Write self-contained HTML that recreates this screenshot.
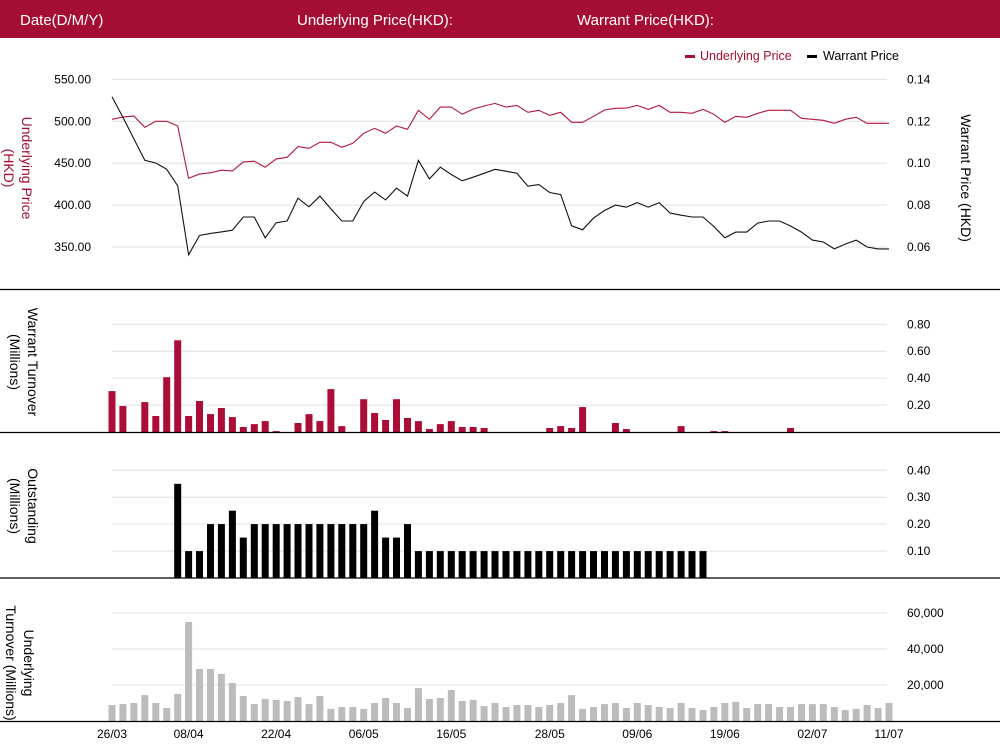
<!DOCTYPE html>
<html><head><meta charset="utf-8"><style>
html,body{margin:0;padding:0;background:#fff;}
body{width:1000px;height:751px;overflow:hidden;font-family:"Liberation Sans",sans-serif;}
svg text{font-family:"Liberation Sans",sans-serif;}
</style></head><body>
<svg id="chart" width="1000" height="751" viewBox="0 0 1000 751" xmlns="http://www.w3.org/2000/svg">
<rect x="0" y="0" width="1000" height="38" fill="#a50e34"/>
<text x="20" y="25" fill="#fff" font-size="15">Date(D/M/Y)</text>
<text x="297" y="25" fill="#fff" font-size="15">Underlying Price(HKD):</text>
<text x="577" y="25" fill="#fff" font-size="15">Warrant Price(HKD):</text>
<g>
<g><rect x="685" y="55" width="10" height="3" fill="#a50e34"/><text x="700" y="60" font-size="12.5" fill="#a50e34">Underlying Price</text></g>
<g><rect x="807" y="55" width="10" height="3" fill="#000"/><text x="823" y="60" font-size="12.5" fill="#000">Warrant  Price</text></g>
</g>
<text transform="translate(14,168) rotate(90)" text-anchor="middle" font-size="14" fill="#a50e34"><tspan x="0" dy="-8">Underlying Price</tspan><tspan x="0" dy="18">(HKD)</tspan></text>
<text transform="translate(961,178) rotate(90)" text-anchor="middle" font-size="14" fill="#000">Warrant  Price (HKD)</text>
<text transform="translate(20,362) rotate(90)" text-anchor="middle" font-size="14" fill="#000"><tspan x="0" dy="-8">Warrant  Turnover</tspan><tspan x="0" dy="18">(Millions)</tspan></text>
<text transform="translate(20,506) rotate(90)" text-anchor="middle" font-size="14" fill="#000"><tspan x="0" dy="-8">Outstanding</tspan><tspan x="0" dy="18">(Millions)</tspan></text>
<text transform="translate(16,663) rotate(90)" text-anchor="middle" font-size="14" fill="#000"><tspan x="0" dy="-8">Underlying</tspan><tspan x="0" dy="18">Turnover (Millions)</tspan></text>
<g id="plots"></g>
</svg>
<script>
const dates = ["26/03","08/04","22/04","06/05","16/05","28/05","09/06","19/06","02/07","11/07"];
const dateIdx = [0,7,15,23,31,40,48,56,64,71];
const underlyingPrice = [502.4,505,506.3,492.8,500,500,494.4,432,437,438.5,441.7,440.8,451.6,452.4,445.2,455.1,457.1,469.8,467.8,475,475,469,473.8,485.7,491.7,485.7,494.4,490.5,513.1,502.4,517,517,508.3,514.6,518.2,521.4,517,519,510.7,513.1,507.1,510.7,498.8,498.8,506,513.5,515.5,515.8,519,514.2,519,510.7,510.7,509.5,514.2,508.3,498.8,506,504.8,509.5,513.1,513.1,513.1,503.6,502.4,501.2,497.6,502.4,504.8,497.6,497.6,497.6];
const warrantPrice = [0.1317,0.1219,0.1116,0.1014,0.1001,0.0971,0.0892,0.0563,0.0655,0.0665,0.0672,0.068,0.0743,0.0743,0.0644,0.0716,0.0724,0.0833,0.0792,0.0843,0.0782,0.0724,0.0724,0.0817,0.0862,0.0825,0.0881,0.0843,0.1014,0.0925,0.0981,0.0946,0.0916,0.0933,0.0952,0.0971,0.0962,0.0952,0.089,0.0898,0.086,0.085,0.0701,0.0682,0.0738,0.0774,0.08,0.079,0.0812,0.079,0.0812,0.0762,0.0752,0.0743,0.0743,0.0698,0.0644,0.0671,0.0671,0.0714,0.0724,0.0724,0.07,0.0671,0.0633,0.0624,0.0591,0.0614,0.0633,0.06,0.0591,0.0591];
const warrantTurnover = [0.304,0.193,0,0.222,0.119,0.407,0.681,0.119,0.23,0.133,0.178,0.111,0.037,0.059,0.081,0.007,0,0.067,0.133,0.081,0.319,0.044,0,0.244,0.141,0.089,0.244,0.104,0.081,0.022,0.059,0.081,0.037,0.037,0.03,0,0,0,0,0,0.03,0.044,0.03,0.185,0,0,0.067,0.022,0,0,0,0,0.044,0,0,0.007,0.007,0,0,0,0,0,0.03,0,0,0,0,0,0,0,0,0];
const outstanding = [0,0,0,0,0,0,0.35,0.1,0.1,0.2,0.2,0.25,0.15,0.2,0.2,0.2,0.2,0.2,0.2,0.2,0.2,0.2,0.2,0.2,0.25,0.15,0.15,0.2,0.1,0.1,0.1,0.1,0.1,0.1,0.1,0.1,0.1,0.1,0.1,0.1,0.1,0.1,0.1,0.1,0.1,0.1,0.1,0.1,0.1,0.1,0.1,0.1,0.1,0.1,0.1,0,0,0,0,0,0,0,0,0,0,0,0,0,0,0,0,0];
const underlyingTurnover = [8900,9400,10000,14400,10000,7200,15000,55000,28900,28900,26100,21100,13900,9400,12200,11700,11100,13300,9400,13900,6700,7800,7800,6700,10000,12800,10000,7200,18300,12200,12800,17200,11100,11700,8300,10000,7800,8900,8900,7800,8900,10000,14400,6700,7800,9400,10000,7200,10000,8900,7800,7200,10000,7200,6100,7800,10000,10600,7200,9400,9400,7800,7800,9400,9400,9400,7800,6100,6700,8900,7200,10000];
const upTicks = [550,500,450,400,350];
const wpTicks = [0.14,0.12,0.10,0.08,0.06];
const wtTicks = [0.8,0.6,0.4,0.2];
const osTicks = [0.4,0.3,0.2,0.1];
const utTicks = [60000,40000,20000];

const NS="http://www.w3.org/2000/svg";
const root=document.getElementById('plots');
function mk(tag,attrs,parent){const e=document.createElementNS(NS,tag);for(const k in attrs)e.setAttribute(k,attrs[k]);(parent||root).appendChild(e);return e;}
const N=underlyingPrice.length;
const X0=112,X1=889,GX0=112,GX1=887;
function x(i){return X0+(X1-X0)*i/(N-1);}
function lin(d0,d1,r0,r1){return v=>r0+(v-d0)*(r1-r0)/(d1-d0);}
const yUP=lin(500,350,121.3,247);
const yWP=lin(0.12,0.06,121.3,247);
const yWT=lin(0,0.8,432,324.3);
const yOS=lin(0,0.4,578,470.3);
const yUT=lin(0,60000,721,613);

function grid(ticks,yf,name,fmt,side){
  ticks.forEach(t=>{
    const l=mk('line',{x1:GX0,x2:GX1,y1:yf(t),y2:yf(t),stroke:'#e0e0e0','stroke-width':1});
    
    
    const tx=mk('text',{x:side==='left'?91:907,y:yf(t)+4,'font-size':12,'text-anchor':side==='left'?'end':'start',fill:'#000'});
    
    
    tx.textContent=fmt(t);
  });
}
grid(upTicks,yUP,'y-left-underlying-price',t=>t.toFixed(2),'left');
wpTicks.forEach(t=>{
  const tx=mk('text',{x:907,y:yWP(t)+4,'font-size':12,fill:'#000'});
  
  
  tx.textContent=t.toFixed(2);
});
grid(wtTicks,yWT,'warrant-turnover-axis',t=>t.toFixed(2),'right');
grid(osTicks,yOS,'outstanding-axis',t=>t.toFixed(2),'right');
grid(utTicks,yUT,'underlying-turnover-axis',t=>t.toLocaleString('en-US'),'right');

function line(vals,yf,color,name){
  const p=mk('polyline',{points:vals.map((v,i)=>x(i).toFixed(1)+','+yf(v).toFixed(1)).join(' '),fill:'none',stroke:color,'stroke-width':1.1});
  
  
}
line(underlyingPrice,yUP,'#b5163f','underlying-price-line');
line(warrantPrice,yWP,'#111','warrant-price-line');

function bars(vals,yf,color,name,w){
  vals.forEach((v,i)=>{
    if(v<=0)return;
    const y0=yf(0),y1=yf(v);
    const r=mk('rect',{x:(x(i)-w/2).toFixed(1),y:y1.toFixed(1),width:w,height:(y0-y1).toFixed(1),fill:color});
    
    
  });
}
bars(warrantTurnover,yWT,'#ab0d36','warrant-turnover',7);
bars(outstanding,yOS,'#000','outstanding',7);
bars(underlyingTurnover,yUT,'#bcbcbc','underlying-turnover',7);

[289.5,432.5,578,721.5].forEach(y=>{
  const l=mk('line',{x1:0,x2:1000,y1:y,y2:y,stroke:'#000','stroke-width':1.3});
  
  
});
dates.forEach((d,k)=>{
  const t=mk('text',{x:x(dateIdx[k]),y:738,'font-size':12,'text-anchor':'middle',fill:'#000'});
  
  
  t.textContent=d;
});
</script>
</body></html>
